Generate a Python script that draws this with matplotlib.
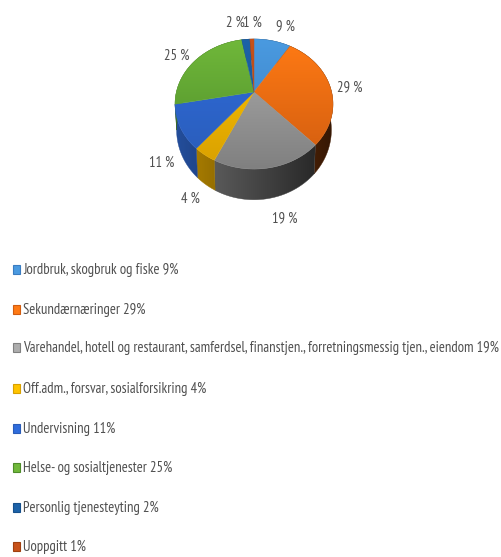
import numpy as np
import matplotlib
matplotlib.use('Agg')
import matplotlib.pyplot as plt
from matplotlib import font_manager
from matplotlib.colors import to_rgb
from matplotlib.patches import Polygon, Rectangle

categories = ['Jordbruk, skogbruk og fiske', 'Sekundærnæringer',
              'Varehandel, hotell og restaurant, samferdsel, finanstjen., forretningsmessig tjen., eiendom',
              'Off.adm., forsvar, sosialforsikring', 'Undervisning',
              'Helse- og sosialtjenester', 'Personlig tjenesteyting', 'Uoppgitt']
values = [9, 29, 19, 4, 11, 25, 2, 1]
light = ['#4a9ae0', '#ff7a14', '#adadad', '#ffc400', '#2f6cdc', '#70b83a', '#1c62a8', '#c8521a']
dark = ['#3a7cc0', '#d05c10', '#808080', '#d8a000', '#2a5cb8', '#4e8c2a', '#16508c', '#a04010']

# label centres in pixels
label_xy = [(286, 26), (350, 87), (285, 218), (190, 199), (162, 163), (177, 56), (235, 23), (252, 23)]
legend_y = [270, 310, 348, 389, 429, 468, 508, 547]

# projection of the pie disc
cx, cy = 254, 92
a, b, k = 77.6, 62.8, -0.185
depth = 25

names = {f.name for f in font_manager.fontManager.ttflist}
for family in ['PT Sans Narrow', 'Archivo Narrow', 'Pragati Narrow', 'Liberation Sans Narrow', 'Roboto Condensed', 'Liberation Sans']:
    if family in names:
        plt.rcParams['font.family'] = family
        break


def project(theta):
    u, v = np.sin(theta), -np.cos(theta)
    d = 1 + k * v
    return cx + a * u / d, cy + b * v / d, 1 / d


def gradient(ax, pts, rgba, zorder):
    # rgba is the colour image, clipped to the polygon
    x0, y0 = pts.min(axis=0)
    x1, y1 = pts.max(axis=0)
    im = ax.imshow(rgba, extent=(x0, x1, y1, y0), aspect='auto', zorder=zorder, interpolation='bilinear')
    im.set_clip_path(Polygon(pts, transform=ax.transData))
    # thin outline of average colour hides the clip seam
    ax.add_patch(Polygon(pts, fill=False, ec=rgba.reshape(-1, 3).mean(axis=0), lw=0.3, zorder=zorder))


fig = plt.figure(figsize=(5.02, 5.57), dpi=100)
ax = fig.add_axes([0, 0, 1, 1])
ax.set_xlim(0, 502)
ax.set_ylim(557, 0)
ax.axis('off')
ax.autoscale(False)

edges = np.cumsum([0] + values) / sum(values) * 2 * np.pi
xmin, xmax = cx - 80, cx + 80

for i in range(len(values)):
    th = np.linspace(edges[i], edges[i + 1], 60)
    x, y, s = project(th)
    # side wall, darker to the right; the base sits a little narrower
    xb = cx + (x - cx) * 0.98
    yb = y + depth * s
    side = np.vstack([np.c_[x, y], np.c_[xb[::-1], yb[::-1]]])
    xs = np.linspace(side[:, 0].min(), side[:, 0].max(), 64)
    f = 0.85 - 0.6 * (xs - xmin) / (xmax - xmin)
    rgb = np.clip(np.outer(f, to_rgb(dark[i])), 0, 1)[None, :, :]
    gradient(ax, side, rgb, 2)

for i in range(len(values)):
    th = np.linspace(edges[i], edges[i + 1], 60)
    x, y, s = project(th)
    top = np.vstack([[cx, cy], np.c_[x, y]])
    t = np.linspace(0, 1, 64)[:, None]
    # top surface shaded over the whole disc height
    y0, y1 = top[:, 1].min(), top[:, 1].max()
    t = t * (y1 - y0) / 130 + (y0 - 39) / 130
    rgb = (np.array(to_rgb(light[i])) * (1 - t) + np.array(to_rgb(dark[i])) * t)[:, None, :]
    gradient(ax, top, rgb, 3)

# legend font size is fitted to the width of the longest row
legend_texts = []
for name, v, c1, c2, ly in zip(categories, values, light, dark, legend_y):
    ax.add_patch(Rectangle((13, ly - 5), 7, 9, fc=c1, ec=c2, lw=0.8))
    legend_texts.append(ax.text(23, ly, f'{name} {v}%', ha='left', va='center', fontsize=10, color='#505050'))

renderer = fig.canvas.get_renderer()
widest = max(t.get_window_extent(renderer).width for t in legend_texts)
size = 10 * 477 / widest
for t in legend_texts:
    t.set_fontsize(size)

for v, (lx, ly) in zip(values, label_xy):
    ax.text(lx, ly, f'{v} %', ha='center', va='center', fontsize=size, color='#505050', zorder=5)

fig.savefig('out.png', dpi=100)
